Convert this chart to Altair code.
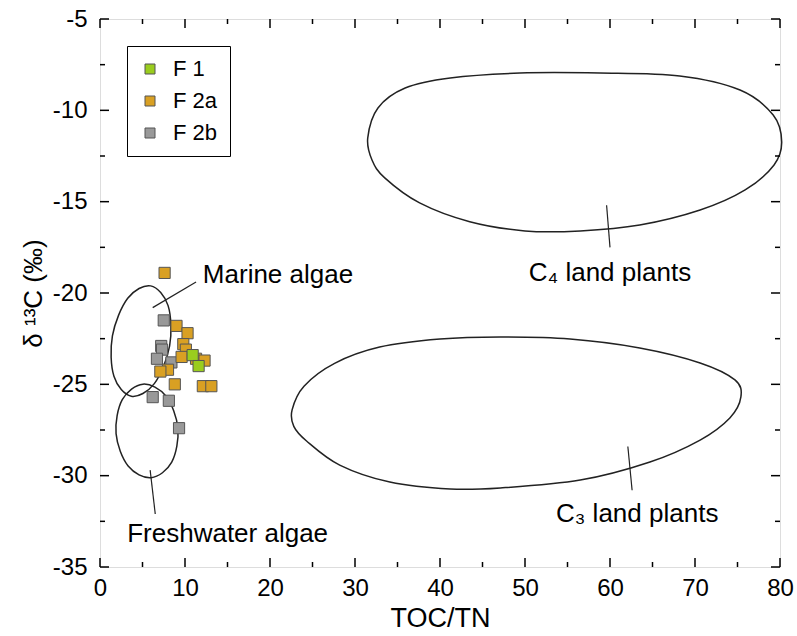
import altair as alt
import pandas as pd

# ---- sample data ----
f1_x = [10.9, 11.6]
f1_y = [-23.4, -24.0]
f2a_x = [7.6, 9.0, 10.3, 9.8, 10.1, 9.6, 11.3, 12.3, 8.0, 7.1, 8.8, 12.1, 13.1]
f2a_y = [-18.9, -21.8, -22.2, -22.8, -23.1, -23.5, -23.6, -23.7, -24.2, -24.3, -25.0, -25.1, -25.1]
f2b_x = [7.5, 7.2, 7.3, 6.7, 8.4, 6.2, 8.1, 9.3]
f2b_y = [-21.5, -22.9, -23.1, -23.6, -23.8, -25.7, -25.9, -27.4]

groups = ["F 1", "F 2a", "F 2b"]
group_colors = ["#9ACD1E", "#D9A023", "#999999"]

# ---- field outlines ----
marine_x = [5.96, 8.01, 8.19, 6.39, 3.68, 1.64, 1.46, 3.26]
marine_y = [-19.61, -20.69, -22.90, -24.96, -25.65, -24.56, -22.35, -20.29]
fresh_x = [5.05, 7.75, 9.16, 8.44, 6.01, 3.31, 1.89, 2.62]
fresh_y = [-24.99, -25.64, -27.40, -29.26, -30.11, -29.47, -27.70, -25.84]
c4_x = [31.5, 32.7, 35.9, 41.2, 49.4, 58.8, 68.2, 75.3, 79.2, 80.2, 79.3, 75.9, 70.6, 63.5, 56.5, 50.0, 43.5, 37.6, 33.5, 32.0]
c4_y = [-11.51, -9.87, -8.78, -8.23, -7.96, -7.96, -8.12, -8.89, -10.26, -11.73, -12.99, -14.36, -15.46, -16.28, -16.6, -16.6, -16.1, -15.07, -13.7, -12.72]
c3_x = [22.6, 24.0, 27.6, 32.9, 40.0, 47.1, 55.3, 63.5, 70.6, 74.7, 75.4, 74.1, 70.6, 64.7, 56.5, 47.1, 41.2, 34.1, 28.2, 24.3, 22.8]
c3_y = [-26.40, -25.10, -23.85, -22.96, -22.52, -22.41, -22.52, -23.01, -23.83, -24.76, -25.69, -26.84, -28.05, -29.25, -30.24, -30.67, -30.73, -30.35, -29.42, -28.10, -27.30]

# ---- labels and leader lines ----
label_text = ["Marine algae", "Freshwater algae", "C\u2084 land plants", "C\u2083 land plants"]
label_x = [12.1, 3.2, 60.0, 63.2]
label_y = [-19.0, -33.2, -18.9, -32.1]
label_align = ["left", "left", "center", "center"]
leader_x1 = [6.2, 5.9, 59.6, 62.1]
leader_y1 = [-20.8, -29.7, -15.2, -28.4]
leader_x2 = [11.3, 6.5, 60.0, 62.6]
leader_y2 = [-19.4, -32.1, -17.5, -30.8]

# ---- ticks ----
x_major = [0, 10, 20, 30, 40, 50, 60, 70, 80]
x_minor = [5, 15, 25, 35, 45, 55, 65, 75]
y_major = [-35, -30, -25, -20, -15, -10, -5]
y_minor = [-32.5, -27.5, -22.5, -17.5, -12.5, -7.5]

W, H = 680, 548
FONT = "Liberation Sans"

pts = pd.DataFrame({
    "x": f2b_x + f2a_x + f1_x,
    "y": f2b_y + f2a_y + f1_y,
    "g": ["F 2b"] * len(f2b_x) + ["F 2a"] * len(f2a_x) + ["F 1"] * len(f1_x),
})

rows = []
for name, xs_, ys_ in [("marine", marine_x, marine_y), ("fresh", fresh_x, fresh_y),
                       ("c4", c4_x, c4_y), ("c3", c3_x, c3_y)]:
    for i, (a, b) in enumerate(zip(xs_, ys_)):
        rows.append({"shape": name, "i": i, "x": a, "y": b})
shapes_df = pd.DataFrame(rows)

labels_df = pd.DataFrame({"text": label_text, "x": label_x, "y": label_y, "align": label_align})
leaders_df = pd.DataFrame({"x": leader_x1, "y": leader_y1, "x2": leader_x2, "y2": leader_y2})

xs = alt.Scale(domain=[0, 80], nice=False, zero=False)
ys = alt.Scale(domain=[-35, -5], nice=False, zero=False)

x_axis = alt.Axis(values=x_major, ticks=False, domain=False, grid=False, labelFontSize=24,
                  labelFont=FONT, labelColor="black", labelPadding=9, title="TOC/TN",
                  titleFont=FONT, titleFontSize=27, titleFontWeight="normal", titleColor="black",
                  titlePadding=5, labelFlush=False, labelExpr="'' + datum.value")
y_axis = alt.Axis(values=y_major, ticks=False, domain=False, grid=False, labelFontSize=24,
                  labelFont=FONT, labelColor="black", labelPadding=13,
                  title="\u03b4 \u00b9\u00b3C (\u2030)",
                  titleFont=FONT, titleFontSize=26, titleFontWeight="normal", titleColor="black",
                  titlePadding=6, labelFlush=False, labelExpr="'' + datum.value")

base_pts = alt.Chart(pts).mark_square(size=125, opacity=1, stroke="#555555", strokeWidth=1).encode(
    x=alt.X("x:Q", scale=xs, axis=x_axis),
    y=alt.Y("y:Q", scale=ys, axis=y_axis),
    color=alt.Color("g:N", scale=alt.Scale(domain=groups, range=group_colors),
                    legend=alt.Legend(title=None, orient="none", legendX=27, legendY=27,
                                      strokeColor="black", padding=12, labelFont=FONT,
                                      labelFontSize=22, labelColor="black", symbolSize=100,
                                      symbolStrokeColor="#555555", symbolStrokeWidth=1,
                                      symbolType="square", labelOffset=12, rowPadding=10,
                                      symbolOpacity=1)),
    order=alt.Order("idx:Q"),
).transform_window(idx="row_number()")

outlines = alt.Chart(shapes_df).mark_line(color="#222222", strokeWidth=1.5,
                                           interpolate="cardinal-closed").encode(
    x=alt.X("x:Q", scale=xs), y=alt.Y("y:Q", scale=ys), detail="shape:N", order="i:Q")

leaders = alt.Chart(leaders_df).mark_rule(color="#222222", strokeWidth=1.2).encode(
    x=alt.X("x:Q", scale=xs), y=alt.Y("y:Q", scale=ys), x2="x2:Q", y2="y2:Q")

texts_left = alt.Chart(labels_df).transform_filter("datum.align == 'left'").mark_text(
    align="left", baseline="middle", font=FONT, fontSize=26, color="black").encode(
    x=alt.X("x:Q", scale=xs), y=alt.Y("y:Q", scale=ys), text="text:N")
texts_center = alt.Chart(labels_df).transform_filter("datum.align == 'center'").mark_text(
    align="center", baseline="middle", font=FONT, fontSize=26, color="black").encode(
    x=alt.X("x:Q", scale=xs), y=alt.Y("y:Q", scale=ys), text="text:N")

# tick marks pointing inwards on all four sides
def xticks(vals, length):
    d = pd.DataFrame({"v": vals})
    bot = alt.Chart(d).mark_rule(color="black", strokeWidth=1.5).encode(
        x=alt.X("v:Q", scale=xs), y=alt.value(H), y2=alt.value(H - length))
    top = alt.Chart(d).mark_rule(color="black", strokeWidth=1.5).encode(
        x=alt.X("v:Q", scale=xs), y=alt.value(0), y2=alt.value(length))
    return bot + top

def yticks(vals, length):
    d = pd.DataFrame({"v": vals})
    left = alt.Chart(d).mark_rule(color="black", strokeWidth=1.5).encode(
        y=alt.Y("v:Q", scale=ys), x=alt.value(0), x2=alt.value(length))
    right = alt.Chart(d).mark_rule(color="black", strokeWidth=1.5).encode(
        y=alt.Y("v:Q", scale=ys), x=alt.value(W), x2=alt.value(W - length))
    return left + right

chart = alt.layer(
    outlines, leaders, texts_left, texts_center,
    xticks(x_major, 9), xticks(x_minor, 5), yticks(y_major, 9), yticks(y_minor, 5),
    base_pts,
).properties(
    width=W, height=H, autosize="none",
    padding={"left": 100, "top": 19, "right": 17, "bottom": 69},
).configure_view(stroke="black", strokeWidth=2).configure(background="white")

chart.save("out.html", embed_options={"renderer": "svg", "actions": False})
